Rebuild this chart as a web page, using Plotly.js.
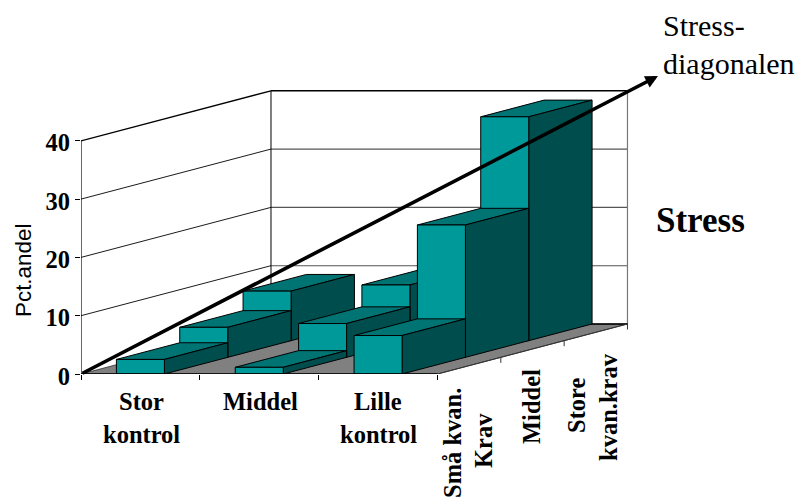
<!DOCTYPE html>
<html><head><meta charset="utf-8">
<script src="https://cdn.plot.ly/plotly-3.0.1.min.js"></script>
<style>html,body{margin:0;padding:0;background:#fff}</style></head>
<body><div id="chart" style="width:798px;height:498px"></div>
<script>
// Data (percent share), one list per depth row, ordered Stor / Middel / Lille kontrol
const smaaKrav   = [2.5, 1.15, 6.6];
const middelKrav = [5.15, 5.8, 22.7];
const storeKrav  = [8.5, 9.55, 38.4];
const yTicks = [0, 10, 20, 30, 40];
const yTickText = ['0', '10', '20', '30', '40'];
const rows = [smaaKrav, middelKrav, storeKrav];

// Chart constants (axis units: x = categories, y = percent)
const W = 798, H = 498, L = 81, BASE = 374;
const pxX = 118.83, pxY = 5.83;
const kx = 63.33 / pxX, kz = 16.67 / pxY;   // oblique shift per depth row
const barW = 0.404;
const P = (x, d, z) => [x + d * kx, z + d * kz];
const FRONT = '#009999', TOP = '#007373', SIDE = '#004d4d';

function poly(pts, fill, lw) {
  const c = pts.concat([pts[0]]);
  return {type:'scatter', mode:'lines', x:c.map(p=>p[0]), y:c.map(p=>p[1]), fill:'toself',
    fillcolor:fill, line:{color:'#000', width:lw===undefined?1:lw}, hoverinfo:'skip', showlegend:false, cliponaxis:false};
}
function line(pts, color, w) {
  return {type:'scatter', mode:'lines', x:pts.map(p=>p[0]), y:pts.map(p=>p[1]),
    line:{color:color, width:w}, hoverinfo:'skip', showlegend:false, cliponaxis:false};
}
const traces = [];
// back wall + left wall
yTicks.forEach(z => {
  if (z > 0) {
    traces.push(line([P(0,0,z), P(0,3,z)], '#000', z===40?1.3:0.9));
    traces.push(line([P(0,3,z), P(3,3,z)], z===40?'#000':'#555', z===40?1.4:1.1));
  }
});
traces.push(line([P(0,3,0), P(0,3,40)], '#000', 1));
traces.push(line([P(3,3,0), P(3,3,40)], '#777', 1.2));
// floor
traces.push(poly([P(0,0,0), P(3,0,0), P(3,3,0), P(0,3,0)], '#808080', 0.6));
traces.push(line([P(0,3,0), P(3,3,0)], '#000', 1.4));
// bars, back to front
for (let r = 2; r >= 0; r--) {
  rows[r].forEach((v, c) => {
    const a = c + 0.5 - barW/2, b = c + 0.5 + barW/2;
    traces.push(poly([P(a,r,v), P(b,r,v), P(b,r+1,v), P(a,r+1,v)], TOP));
    traces.push(poly([P(b,r,0), P(b,r+1,0), P(b,r+1,v), P(b,r,v)], SIDE));
    traces.push(poly([P(a,r,0), P(b,r,0), P(b,r,v), P(a,r,v)], FRONT));
  });
}
// axis lines and depth ticks
traces.push(line([P(0,0,0), P(0,0,40)], '#000', 1.2));
traces.push(line([P(0,0,0), P(3,0,0)], '#000', 1.4));
traces.push(line([P(3,0,0), P(3,3,0)], '#333', 1));
[0,1,2,3].forEach(d => {
  const p = P(3,d,0);
  traces.push(line([p, [p[0], p[1]-5.5/pxY]], '#333', 1));
});

const serif = 'Liberation Serif, Times New Roman, serif';
const ax = (px, py) => ({xref:'paper', yref:'paper', x:(px-L)/(W-L), y:(BASE-py)/BASE, xanchor:'center', yanchor:'middle', showarrow:false});
const lab = (text, px, py, size, bold, angle, font) => Object.assign(ax(px,py), {
  text: bold ? '<b>'+text+'</b>' : text, textangle: angle||0,
  font:{family:font||serif, size:size, color:'#000'}});

const annotations = [
  lab('Stor', 141, 401, 24.5, true), lab('kontrol', 141, 434, 24.5, true),
  lab('Middel', 260.5, 401, 24.5, true),
  lab('Lille', 378, 401, 24.5, true), lab('kontrol', 378, 434, 24.5, true),
  lab('Små kvan.', 452, 443, 24.5, true, -90), lab('Krav', 483, 441, 24.5, true, -90),
  lab('Middel', 532, 407, 24.5, true, -90),
  lab('Store', 577, 406, 24.5, true, -90), lab('kvan.krav', 609, 407, 24.5, true, -90),
  lab('Pct.andel', 23, 271, 22.4, false, -90, 'Liberation Sans, Arial, sans-serif'),
  lab('Stress-', 704, 25, 30, false), lab('diagonalen', 729, 63, 30, false),
  lab('Stress', 700.5, 220, 35, true),
  {xref:'x', yref:'y', axref:'x', ayref:'y', x:(658-L)/pxX, y:(BASE-76)/pxY, ax:0, ay:0,
   text:'', showarrow:true, arrowhead:2, arrowsize:0.7, arrowwidth:3.6, arrowcolor:'#000', standoff:0, startstandoff:0}
];

const layout = {
  width:W, height:H, margin:{l:L, r:0, t:0, b:H-BASE, pad:0},
  paper_bgcolor:'#fff', plot_bgcolor:'#fff', showlegend:false,
  xaxis:{range:[0,(W-L)/pxX], showgrid:false, zeroline:false, showline:false, showticklabels:false,
    tickmode:'array', tickvals:[0,1,2,3], ticks:'outside', ticklen:5, tickwidth:1, tickcolor:'#000', fixedrange:true},
  yaxis:{range:[0,BASE/pxY], showgrid:false, zeroline:false, showline:false,
    tickmode:'array', tickvals:yTicks, ticktext:yTickText, ticks:'outside', ticklen:5, tickwidth:1, tickcolor:'#000',
    ticklabelshift:2,
    tickfont:{family:serif, size:24.5, color:'#000', weight:'bold'}, fixedrange:true},
  annotations:annotations
};
Plotly.newPlot('chart', traces, layout, {displayModeBar:false, staticPlot:true});
</script></body></html>
